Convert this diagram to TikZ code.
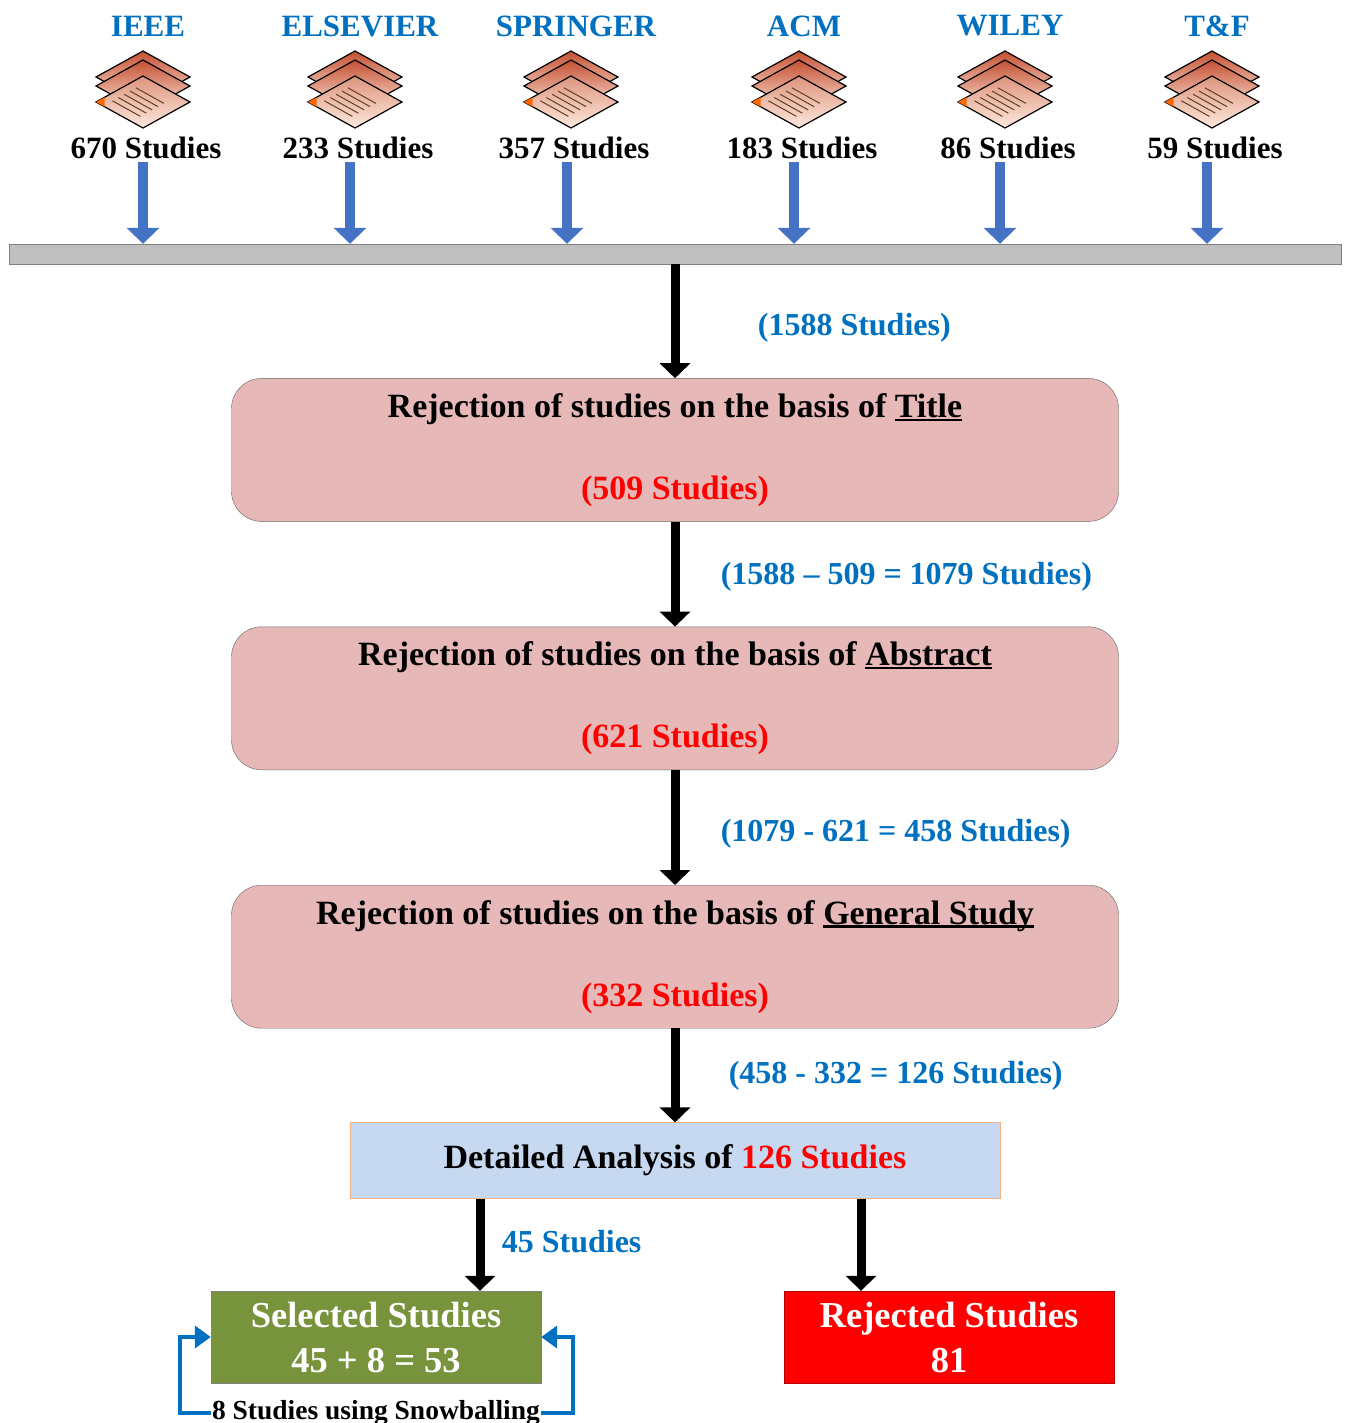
\documentclass[tikz,border=0pt]{standalone}
\usepackage{fontspec}
\setmainfont{Liberation Serif}
\usetikzlibrary{arrows.meta,positioning}

\definecolor{srcblue}{RGB}{0,112,192}
\definecolor{arrblue}{RGB}{68,114,196}
\definecolor{rejpink}{RGB}{230,184,183}
\definecolor{detblue}{RGB}{198,217,241}
\definecolor{detline}{RGB}{244,177,131}
\definecolor{selgreen}{RGB}{119,147,60}
\definecolor{sheettop}{RGB}{196,80,50}
\definecolor{sheetbot}{RGB}{253,232,220}

% underline sitting just under the baseline
\newcommand{\ulword}[1]{\setbox0\hbox{#1}\rlap{\rule[-3.5pt]{\wd0}{2.2pt}}\box0}

\tikzset{
	srcname/.style={font=\fontsize{31}{36}\selectfont\bfseries, text=srcblue},
	srccount/.style={font=\fontsize{31}{36}\selectfont\bfseries},
	countlbl/.style={font=\fontsize{32}{38}\selectfont\bfseries, text=srcblue},
	bluearrow/.style={arrblue, line width=10pt, -{Triangle[width=32pt,length=16pt]}},
	bigarrow/.style={black, line width=9pt, -{Triangle[width=30pt,length=15pt]}},
	snowarrow/.style={srcblue, line width=4pt, -{Triangle[width=22pt,length=16pt]}},
	rejbox/.style={draw=gray!80!black, fill=rejpink, rounded corners=30pt, minimum width=887pt, minimum height=143pt, align=center, font=\fontsize{34}{40}\selectfont\bfseries},
	outbox/.style={draw=gray, minimum width=330pt, minimum height=92pt, align=center, text=white, font=\fontsize{36.5}{45}\selectfont\bfseries},
	papers/.pic={
		\foreach \dy in {-14,-5}
			\shade[draw=black, line width=1.2pt, top color=sheettop, bottom color=sheetbot] (0,\dy-26) -- (47,\dy) -- (0,\dy+26) -- (-47,\dy) -- cycle;
		\shade[draw=black, line width=1.2pt, top color=sheettop!55!sheetbot, bottom color=sheetbot] (0,-15) -- (47,11) -- (0,37) -- (-47,11) -- cycle;
		\foreach \s in {0.3,0.425,0.55,0.675,0.8}
			\draw[brown!50!black, line width=1pt] ({-47*\s+7},{-11+26*\s}) -- ++(28,15.6);
		\fill[orange!80!red] (-47,11) -- (-38.5,6.3) -- (-38.5,15.7) -- cycle;
	}
}

\begin{document}
\begin{tikzpicture}[x=1pt, y=-1pt]
	\fill[white] (0,0) rectangle (1347,1423);
	\useasboundingbox (0,0) rectangle (1347,1423);

	\node[draw=gray, fill=gray!50, minimum width=1332pt, minimum height=20pt, inner sep=0pt] (bar) at (675,254) {};

	% the six libraries
	\foreach \x/\name/\nstud/\ax [count=\i] in {143/IEEE/670/143, 355/ELSEVIER/233/350, 571/SPRINGER/357/567, 799/ACM/183/794, 1005/WILEY/86/1000, 1212/T\&F/59/1207} {
		\node[srcname] (src\i) at (\x+5,26) {\name};
		\pic at (\x,91) {papers};
		\node[srccount] (cnt\i) at (\x+3,148) {\nstud{} Studies};
		\coordinate (drop\i) at (\ax,162);
		\draw[bluearrow] (drop\i) -- (drop\i |- bar.north);
	}

	\node[rejbox] (title) [below=114pt of bar] {Rejection of studies on the basis of \ulword{Title}\\[42pt]\textcolor{red}{(509 Studies)}};
	\node[rejbox] (abstract) [below=105pt of title] {Rejection of studies on the basis of \ulword{Abstract}\\[42pt]\textcolor{red}{(621 Studies)}};
	\node[rejbox] (general) [below=115pt of abstract] {Rejection of studies on the basis of \ulword{General Study}\\[42pt]\textcolor{red}{(332 Studies)}};
	\node[draw=detline, fill=detblue, minimum width=650pt, minimum height=76pt, font=\fontsize{34}{40}\selectfont\bfseries] (detail) [below=94pt of general] {Detailed Analysis of \textcolor{red}{126 Studies}};

	\draw[bigarrow] (bar.south) -- node[countlbl, right=75pt, yshift=-7pt] {(1588 Studies)} (title.north);
	\draw[bigarrow] (title.south) -- node[countlbl, right=38pt, yshift=-3pt] {(1588 -- 509 = 1079 Studies)} (abstract.north);
	\draw[bigarrow] (abstract.south) -- node[countlbl, right=38pt, yshift=-6pt] {(1079 - 621 = 458 Studies)} (general.north);
	\draw[bigarrow] (general.south) -- node[countlbl, right=46pt] {(458 - 332 = 126 Studies)} (detail.north);

	\node[outbox, fill=selgreen] (sel) at (376,1337) {Selected Studies\\45 + 8 = 53};
	\node[outbox, fill=red, draw=red!70!black] (rej) at (949,1337) {Rejected Studies\\81};
	\coordinate (selin) at ([xshift=104pt]sel.north);
	\coordinate (rejin) at ([xshift=-88pt]rej.north);
	\draw[bigarrow] (selin |- detail.south) -- node[countlbl, right=14pt, yshift=3pt] {45 Studies} (selin);
	\draw[bigarrow] (rejin |- detail.south) -- (rejin);

	% snowballing loop
	\node[font=\fontsize{27.5}{32}\selectfont\bfseries, inner sep=1pt] (snow) at (376,1413) {8 Studies using Snowballing};
	\draw[snowarrow] (snow.west) -| ([xshift=-31pt]sel.west) -- (sel.west);
	\draw[snowarrow] (snow.east) -| ([xshift=32pt]sel.east) -- (sel.east);
\end{tikzpicture}
\end{document}
